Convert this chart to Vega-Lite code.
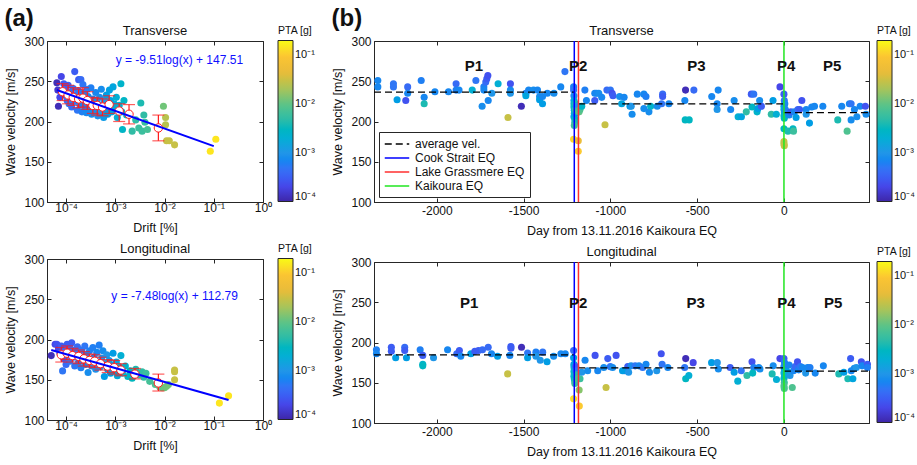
{
  "$schema": "https://vega.github.io/schema/vega-lite/v6.json",
  "padding": {"left": 4, "top": 6, "right": 2, "bottom": 2},
  "config": {
    "font": "Liberation Sans",
    "view": {"stroke": "#262626", "strokeWidth": 1},
    "axis": {"grid": false, "domainColor": "#262626", "tickColor": "#262626", "labelColor": "#111", "titleColor": "#111", "labelFontSize": 12, "titleFontSize": 12.5, "titleFontWeight": "normal", "tickSize": -4, "labelPadding": 7, "domainWidth": 1},
    "axisY": {"titlePadding": 6},
    "axisX": {"titlePadding": 8},
    "title": {"fontSize": 13, "fontWeight": "normal", "offset": -12, "color": "#111"},
    "legend": {"labelFontSize": 11, "titleFontSize": 10.5, "titleFontWeight": "normal", "labelColor": "#111", "titleColor": "#111"}
  },
  "datasets": {
    "tl": [
      {"d":0.000065,"v":248,"p":0.00012},{"d":0.000068,"v":239,"p":0.00015},{"d":0.00007,"v":219,"p":0.00012},{"d":0.00008,"v":256,"p":0.0002},{"d":0.000075,"v":230,"p":0.0002},
      {"d":0.00009,"v":247,"p":0.0003},{"d":0.000095,"v":240,"p":0.0004},{"d":0.0001,"v":232,"p":0.0003},{"d":0.000105,"v":226,"p":0.0004},{"d":0.00011,"v":245,"p":0.0003},
      {"d":0.000115,"v":222,"p":0.0005},{"d":0.00012,"v":236,"p":0.0004},{"d":0.00013,"v":229,"p":0.0005},{"d":0.00013,"v":218,"p":0.0004},{"d":0.00014,"v":241,"p":0.0004},
      {"d":0.00015,"v":262,"p":0.0003},{"d":0.00015,"v":225,"p":0.0005},{"d":0.00016,"v":233,"p":0.0005},{"d":0.00017,"v":214,"p":0.0005},{"d":0.00018,"v":252,"p":0.0003},
      {"d":0.00018,"v":238,"p":0.0005},{"d":0.00019,"v":221,"p":0.0006},{"d":0.0002,"v":252,"p":0.0004},{"d":0.0002,"v":229,"p":0.0005},{"d":0.00021,"v":212,"p":0.0006},
      {"d":0.00022,"v":246,"p":0.0005},{"d":0.00023,"v":235,"p":0.0006},{"d":0.00024,"v":219,"p":0.0006},{"d":0.00025,"v":226,"p":0.0006},{"d":0.00026,"v":211,"p":0.0007},
      {"d":0.00027,"v":240,"p":0.0005},{"d":0.00028,"v":231,"p":0.0007},{"d":0.0003,"v":223,"p":0.0007},{"d":0.0003,"v":215,"p":0.0007},{"d":0.00032,"v":242,"p":0.0006},
      {"d":0.00033,"v":209,"p":0.0008},{"d":0.00035,"v":228,"p":0.0007},{"d":0.00036,"v":219,"p":0.0008},{"d":0.00038,"v":213,"p":0.0008},{"d":0.0004,"v":236,"p":0.0007},
      {"d":0.00042,"v":224,"p":0.0008},{"d":0.00044,"v":207,"p":0.0009},{"d":0.00046,"v":216,"p":0.0009},{"d":0.00048,"v":230,"p":0.0008},{"d":0.0005,"v":212,"p":0.001},
      {"d":0.00052,"v":240,"p":0.0008},{"d":0.00055,"v":221,"p":0.001},{"d":0.00058,"v":205,"p":0.0011},{"d":0.0006,"v":227,"p":0.001},{"d":0.00063,"v":214,"p":0.0011},
      {"d":0.00066,"v":233,"p":0.0012},{"d":0.0007,"v":209,"p":0.0012},{"d":0.00073,"v":219,"p":0.0013},{"d":0.00076,"v":239,"p":0.0013},{"d":0.0008,"v":226,"p":0.0014},
      {"d":0.00085,"v":212,"p":0.0015},{"d":0.0009,"v":243,"p":0.0015},{"d":0.00095,"v":222,"p":0.0016},{"d":0.001,"v":216,"p":0.0018},{"d":0.00105,"v":230,"p":0.002},
      {"d":0.0011,"v":205,"p":0.002},{"d":0.0012,"v":220,"p":0.0022},{"d":0.0013,"v":247,"p":0.0025},{"d":0.00135,"v":212,"p":0.0025},{"d":0.0014,"v":190,"p":0.0028},
      {"d":0.0015,"v":226,"p":0.0028},{"d":0.0017,"v":208,"p":0.003},{"d":0.0022,"v":188,"p":0.005},{"d":0.0026,"v":202,"p":0.005},{"d":0.003,"v":192,"p":0.006},
      {"d":0.0033,"v":223,"p":0.004},{"d":0.0035,"v":188,"p":0.006},{"d":0.0038,"v":208,"p":0.005},{"d":0.004,"v":199,"p":0.006},{"d":0.0045,"v":190,"p":0.007},
      {"d":0.0095,"v":219,"p":0.012},{"d":0.0105,"v":205,"p":0.025},{"d":0.0105,"v":196,"p":0.025},{"d":0.011,"v":176,"p":0.03},{"d":0.0125,"v":176,"p":0.03},
      {"d":0.016,"v":171,"p":0.03},{"d":0.085,"v":163,"p":0.15},{"d":0.11,"v":178,"p":0.15}
    ],
    "bl": [
      {"d":0.00005,"v":180,"p":0.00012},{"d":0.00006,"v":194,"p":0.0002},{"d":0.000065,"v":194,"p":0.00025},{"d":0.00007,"v":188,"p":0.0002},{"d":0.000075,"v":183,"p":0.0003},
      {"d":0.00008,"v":192,"p":0.0003},{"d":0.000085,"v":161,"p":0.0005},{"d":0.00009,"v":176,"p":0.0003},{"d":0.000095,"v":186,"p":0.0004},{"d":0.0001,"v":169,"p":0.0004},
      {"d":0.000105,"v":194,"p":0.0003},{"d":0.00011,"v":181,"p":0.0004},{"d":0.00012,"v":173,"p":0.0005},{"d":0.000125,"v":188,"p":0.0004},{"d":0.00013,"v":196,"p":0.0003},
      {"d":0.00014,"v":178,"p":0.0005},{"d":0.00015,"v":167,"p":0.0005},{"d":0.00016,"v":185,"p":0.0005},{"d":0.00017,"v":191,"p":0.0004},{"d":0.00018,"v":172,"p":0.0006},
      {"d":0.00019,"v":180,"p":0.0005},{"d":0.0002,"v":165,"p":0.0006},{"d":0.00021,"v":187,"p":0.0005},{"d":0.00022,"v":176,"p":0.0006},{"d":0.00024,"v":192,"p":0.0005},
      {"d":0.00025,"v":169,"p":0.0007},{"d":0.00026,"v":181,"p":0.0006},{"d":0.00028,"v":159,"p":0.0008},{"d":0.0003,"v":186,"p":0.0006},{"d":0.00031,"v":174,"p":0.0007},
      {"d":0.00033,"v":167,"p":0.0008},{"d":0.00035,"v":190,"p":0.0006},{"d":0.00037,"v":178,"p":0.0007},{"d":0.0004,"v":163,"p":0.0009},{"d":0.00042,"v":184,"p":0.0007},
      {"d":0.00044,"v":171,"p":0.0008},{"d":0.00047,"v":193,"p":0.0006},{"d":0.0005,"v":166,"p":0.0009},{"d":0.00053,"v":177,"p":0.0009},{"d":0.00056,"v":186,"p":0.0008},
      {"d":0.0006,"v":154,"p":0.0012},{"d":0.00063,"v":170,"p":0.001},{"d":0.00067,"v":181,"p":0.001},{"d":0.0007,"v":163,"p":0.0012},{"d":0.00075,"v":174,"p":0.0011},
      {"d":0.0008,"v":158,"p":0.0013},{"d":0.00085,"v":168,"p":0.0013},{"d":0.0009,"v":183,"p":0.0012},{"d":0.001,"v":162,"p":0.0015},{"d":0.00105,"v":172,"p":0.0015},
      {"d":0.0011,"v":155,"p":0.0017},{"d":0.0012,"v":166,"p":0.0018},{"d":0.0013,"v":180,"p":0.002},{"d":0.0014,"v":158,"p":0.0022},{"d":0.0016,"v":167,"p":0.0024},
      {"d":0.0018,"v":154,"p":0.0028},{"d":0.002,"v":161,"p":0.003},{"d":0.0022,"v":152,"p":0.0032},{"d":0.0026,"v":163,"p":0.004},{"d":0.003,"v":156,"p":0.0045},
      {"d":0.0035,"v":160,"p":0.005},{"d":0.0038,"v":153,"p":0.005},{"d":0.0042,"v":158,"p":0.006},{"d":0.005,"v":148,"p":0.007},{"d":0.0065,"v":144,"p":0.008},
      {"d":0.008,"v":141,"p":0.01},{"d":0.009,"v":140,"p":0.01},{"d":0.01,"v":140,"p":0.011},{"d":0.011,"v":142,"p":0.012},{"d":0.012,"v":144,"p":0.012},
      {"d":0.016,"v":150,"p":0.03},{"d":0.016,"v":160,"p":0.03},{"d":0.016,"v":162,"p":0.03},{"d":0.13,"v":121,"p":0.15},{"d":0.2,"v":130,"p":0.15}
    ],
    "tlerr": [
      {"d":0.000085,"m":237,"lo":226,"hi":247},{"d":0.00011,"m":233,"lo":222,"hi":245},{"d":0.00014,"m":230,"lo":220,"hi":242},{"d":0.00018,"m":228,"lo":217,"hi":240},
      {"d":0.00022,"m":229,"lo":218,"hi":242},{"d":0.00027,"m":226,"lo":215,"hi":237},{"d":0.00035,"m":220,"lo":210,"hi":230},{"d":0.00043,"m":220,"lo":208,"hi":229},
      {"d":0.00055,"m":218,"lo":207,"hi":228},{"d":0.00075,"m":221,"lo":210,"hi":232},{"d":0.0012,"m":213,"lo":200,"hi":222},{"d":0.0019,"m":209,"lo":197,"hi":221},
      {"d":0.0075,"m":192,"lo":176,"hi":208}
    ],
    "blerr": [
      {"d":0.00008,"m":181,"lo":172,"hi":190},{"d":0.000105,"m":183,"lo":175,"hi":192},{"d":0.000135,"m":180,"lo":172,"hi":189},{"d":0.00018,"m":179,"lo":170,"hi":187},
      {"d":0.00023,"m":176,"lo":167,"hi":185},{"d":0.0003,"m":174,"lo":166,"hi":182},{"d":0.00038,"m":173,"lo":165,"hi":181},{"d":0.0005,"m":170,"lo":162,"hi":178},
      {"d":0.0007,"m":167,"lo":159,"hi":175},{"d":0.00095,"m":165,"lo":157,"hi":174},{"d":0.0013,"m":162,"lo":155,"hi":170},{"d":0.0025,"m":157,"lo":151,"hi":164},
      {"d":0.0075,"m":146,"lo":136,"hi":157}
    ],
    "tlfit": [{"d":0.000065,"v":239.2},{"d":0.1,"v":169.4}],
    "blfit": [{"d":0.00005,"v":186.9},{"d":0.2,"v":124.8}],
    "tleq": [{"d":0.02,"v":276,"t":"y = -9.51log(x) + 147.51"}],
    "bleq": [{"d":0.016,"v":254,"t":"y = -7.48log(x) + 112.79"}],
    "tr": [
      {"d":-2340,"v":251,"p":0.0007},{"d":-2340,"v":243,"p":0.0007},{"d":-2250,"v":247,"p":0.0005},{"d":-2250,"v":243,"p":0.0005},{"d":-2229,"v":227,"p":0.0012},
      {"d":-2179,"v":226,"p":0.00025},{"d":-2168,"v":243,"p":0.0004},{"d":-2168,"v":235,"p":0.0007},{"d":-2090,"v":251,"p":0.0006},{"d":-2073,"v":230,"p":0.0007},
      {"d":-2073,"v":222,"p":0.004},{"d":-2011,"v":237,"p":0.0007},{"d":-1933,"v":237,"p":0.0007},{"d":-1889,"v":247,"p":0.0004},{"d":-1889,"v":239,"p":0.0006},
      {"d":-1872,"v":239,"p":0.0007},{"d":-1796,"v":239,"p":0.002},{"d":-1775,"v":251,"p":0.0005},{"d":-1739,"v":219,"p":0.0008},{"d":-1729,"v":243,"p":0.0006},
      {"d":-1729,"v":239,"p":0.0007},{"d":-1718,"v":249,"p":0.0004},{"d":-1712,"v":253,"p":0.0003},{"d":-1706,"v":257,"p":0.00025},{"d":-1704,"v":226,"p":0.0007},
      {"d":-1683,"v":235,"p":0.001},{"d":-1647,"v":247,"p":0.002},{"d":-1590,"v":205,"p":0.03},{"d":-1576,"v":247,"p":0.00025},{"d":-1576,"v":239,"p":0.0007},
      {"d":-1576,"v":235,"p":0.001},{"d":-1513,"v":219,"p":0.00012},{"d":-1487,"v":235,"p":0.0006},{"d":-1487,"v":232,"p":0.0015},{"d":-1471,"v":239,"p":0.0007},
      {"d":-1443,"v":239,"p":0.0008},{"d":-1420,"v":239,"p":0.0007},{"d":-1408,"v":231,"p":0.0008},{"d":-1408,"v":227,"p":0.0012},{"d":-1391,"v":231,"p":0.0007},
      {"d":-1391,"v":222,"p":0.0012},{"d":-1363,"v":235,"p":0.0007},{"d":-1325,"v":235,"p":0.0008},{"d":-1286,"v":243,"p":0.0007},{"d":-1262,"v":262,"p":0.0005},
      {"d":-1212,"v":243,"p":0.0006},{"d":-1212,"v":239,"p":0.0005},{"d":-1210,"v":232,"p":0.0007},{"d":-1210,"v":226,"p":0.0015},{"d":-1210,"v":222,"p":0.0025},
      {"d":-1210,"v":218,"p":0.003},{"d":-1208,"v":214,"p":0.002},{"d":-1208,"v":210,"p":0.0025},{"d":-1210,"v":206,"p":0.0012},{"d":-1205,"v":203,"p":0.003},
      {"d":-1205,"v":199,"p":0.004},{"d":-1208,"v":195,"p":0.006},{"d":-1212,"v":178,"p":0.12},{"d":-1200,"v":222,"p":0.004},{"d":-1200,"v":215,"p":0.008},
      {"d":-1200,"v":210,"p":0.0012},{"d":-1195,"v":219,"p":0.001},{"d":-1198,"v":213,"p":0.005},{"d":-1185,"v":176,"p":0.05},{"d":-1185,"v":163,"p":0.1},
      {"d":-1185,"v":213,"p":0.006},{"d":-1180,"v":212,"p":0.01},{"d":-1175,"v":215,"p":0.008},{"d":-1165,"v":219,"p":0.0025},{"d":-1147,"v":239,"p":0.0006},
      {"d":-1138,"v":226,"p":0.0007},{"d":-1090,"v":226,"p":0.0003},{"d":-1090,"v":235,"p":0.0007},{"d":-1080,"v":235,"p":0.0007},{"d":-1067,"v":235,"p":0.0008},
      {"d":-1050,"v":230,"p":0.0007},{"d":-1031,"v":196,"p":0.03},{"d":-1020,"v":239,"p":0.0004},{"d":-1000,"v":239,"p":0.0005},{"d":-990,"v":235,"p":0.00025},
      {"d":-985,"v":232,"p":0.0003},{"d":-947,"v":231,"p":0.0008},{"d":-935,"v":222,"p":0.0015},{"d":-921,"v":230,"p":0.0007},{"d":-887,"v":219,"p":0.0012},
      {"d":-880,"v":219,"p":0.001},{"d":-875,"v":209,"p":0.0008},{"d":-845,"v":234,"p":0.0007},{"d":-807,"v":234,"p":0.0007},{"d":-795,"v":231,"p":0.0006},
      {"d":-807,"v":216,"p":0.0008},{"d":-778,"v":212,"p":0.0008},{"d":-768,"v":219,"p":0.0025},{"d":-730,"v":219,"p":0.0008},{"d":-699,"v":234,"p":0.0004},
      {"d":-699,"v":231,"p":0.0003},{"d":-705,"v":222,"p":0.0005},{"d":-663,"v":222,"p":0.0007},{"d":-571,"v":226,"p":0.0007},{"d":-567,"v":239,"p":0.00012},
      {"d":-519,"v":239,"p":0.0004},{"d":-569,"v":202,"p":0.003},{"d":-546,"v":202,"p":0.003},{"d":-416,"v":231,"p":0.0007},{"d":-385,"v":222,"p":0.0007},
      {"d":-385,"v":215,"p":0.001},{"d":-379,"v":239,"p":0.0007},{"d":-307,"v":215,"p":0.0007},{"d":-287,"v":226,"p":0.0008},{"d":-264,"v":206,"p":0.002},
      {"d":-245,"v":206,"p":0.0015},{"d":-217,"v":212,"p":0.005},{"d":-188,"v":234,"p":0.0003},{"d":-174,"v":234,"p":0.0005},{"d":-184,"v":218,"p":0.003},
      {"d":-155,"v":212,"p":0.0025},{"d":-150,"v":216,"p":0.0012},{"d":-140,"v":226,"p":0.0008},{"d":-130,"v":219,"p":0.0003},{"d":-73,"v":209,"p":0.005},
      {"d":-63,"v":226,"p":0.0012},{"d":-44,"v":209,"p":0.002},{"d":-23,"v":243,"p":0.0002},{"d":0,"v":234,"p":0.0003},{"d":2,"v":226,"p":0.0005},
      {"d":0,"v":219,"p":0.0012},{"d":0,"v":215,"p":0.002},{"d":2,"v":211,"p":0.0015},{"d":0,"v":207,"p":0.0025},{"d":2,"v":204,"p":0.003},
      {"d":0,"v":191,"p":0.003},{"d":0,"v":175,"p":0.03},{"d":0,"v":172,"p":0.025},{"d":2,"v":170,"p":0.03},{"d":5,"v":222,"p":0.0007},
      {"d":8,"v":215,"p":0.0007},{"d":15,"v":212,"p":0.0006},{"d":23,"v":188,"p":0.004},{"d":30,"v":208,"p":0.0007},{"d":40,"v":212,"p":0.0003},
      {"d":52,"v":191,"p":0.003},{"d":55,"v":188,"p":0.006},{"d":60,"v":212,"p":0.0007},{"d":70,"v":205,"p":0.0012},{"d":80,"v":215,"p":0.0004},
      {"d":90,"v":215,"p":0.0003},{"d":103,"v":226,"p":0.00025},{"d":128,"v":215,"p":0.0007},{"d":128,"v":209,"p":0.001},{"d":147,"v":198,"p":0.0012},
      {"d":160,"v":218,"p":0.0007},{"d":176,"v":219,"p":0.0007},{"d":224,"v":219,"p":0.0007},{"d":310,"v":202,"p":0.004},{"d":333,"v":219,"p":0.0007},
      {"d":364,"v":188,"p":0.008},{"d":377,"v":222,"p":0.0007},{"d":387,"v":222,"p":0.0005},{"d":387,"v":202,"p":0.0008},{"d":406,"v":215,"p":0.0007},
      {"d":420,"v":206,"p":0.0008},{"d":439,"v":219,"p":0.0007},{"d":469,"v":219,"p":0.00025},{"d":473,"v":209,"p":0.0008}
    ],
    "br": [
      {"d":-2348,"v":191,"p":0.0006},{"d":-2348,"v":186,"p":0.0007},{"d":-2262,"v":194,"p":0.0003},{"d":-2262,"v":189,"p":0.0003},{"d":-2237,"v":181,"p":0.0012},
      {"d":-2185,"v":194,"p":0.0004},{"d":-2185,"v":190,"p":0.0003},{"d":-2175,"v":181,"p":0.0012},{"d":-2096,"v":191,"p":0.0006},{"d":-2081,"v":184,"p":0.0003},
      {"d":-2081,"v":173,"p":0.0025},{"d":-2081,"v":171,"p":0.003},{"d":-2019,"v":181,"p":0.001},{"d":-1938,"v":191,"p":0.0007},{"d":-1885,"v":186,"p":0.0004},
      {"d":-1870,"v":190,"p":0.0003},{"d":-1862,"v":183,"p":0.0007},{"d":-1804,"v":186,"p":0.0012},{"d":-1781,"v":189,"p":0.0003},{"d":-1760,"v":190,"p":0.0003},
      {"d":-1737,"v":191,"p":0.0004},{"d":-1704,"v":194,"p":0.0004},{"d":-1685,"v":186,"p":0.0007},{"d":-1650,"v":183,"p":0.0012},{"d":-1592,"v":161,"p":0.03},
      {"d":-1579,"v":184,"p":0.0007},{"d":-1573,"v":195,"p":0.0003},{"d":-1573,"v":193,"p":0.0003},{"d":-1512,"v":194,"p":0.00012},{"d":-1477,"v":187,"p":0.0005},
      {"d":-1477,"v":181,"p":0.0012},{"d":-1429,"v":188,"p":0.0006},{"d":-1429,"v":183,"p":0.001},{"d":-1404,"v":178,"p":0.001},{"d":-1390,"v":188,"p":0.0005},
      {"d":-1365,"v":176,"p":0.0012},{"d":-1327,"v":183,"p":0.0008},{"d":-1285,"v":186,"p":0.0007},{"d":-1260,"v":186,"p":0.0007},{"d":-1212,"v":190,"p":0.0004},
      {"d":-1212,"v":181,"p":0.0012},{"d":-1210,"v":173,"p":0.0012},{"d":-1210,"v":170,"p":0.0015},{"d":-1208,"v":167,"p":0.002},{"d":-1210,"v":164,"p":0.0025},
      {"d":-1208,"v":161,"p":0.003},{"d":-1210,"v":158,"p":0.002},{"d":-1208,"v":155,"p":0.003},{"d":-1205,"v":152,"p":0.004},{"d":-1205,"v":149,"p":0.006},
      {"d":-1212,"v":130,"p":0.13},{"d":-1200,"v":170,"p":0.0003},{"d":-1198,"v":165,"p":0.0005},{"d":-1195,"v":160,"p":0.005},{"d":-1190,"v":155,"p":0.008},
      {"d":-1180,"v":141,"p":0.015},{"d":-1179,"v":121,"p":0.1},{"d":-1175,"v":155,"p":0.006},{"d":-1165,"v":163,"p":0.001},{"d":-1146,"v":178,"p":0.0007},
      {"d":-1131,"v":165,"p":0.0008},{"d":-1088,"v":184,"p":0.00025},{"d":-1073,"v":165,"p":0.0007},{"d":-1038,"v":169,"p":0.0008},{"d":-1025,"v":144,"p":0.03},
      {"d":-1015,"v":180,"p":0.0003},{"d":-1000,"v":170,"p":0.0005},{"d":-987,"v":169,"p":0.0008},{"d":-967,"v":184,"p":0.00025},{"d":-919,"v":165,"p":0.0007},
      {"d":-900,"v":170,"p":0.0003},{"d":-881,"v":171,"p":0.0008},{"d":-930,"v":165,"p":0.0012},{"d":-895,"v":163,"p":0.001},{"d":-857,"v":171,"p":0.0005},
      {"d":-835,"v":171,"p":0.0007},{"d":-814,"v":169,"p":0.0005},{"d":-795,"v":173,"p":0.0007},{"d":-775,"v":163,"p":0.0008},{"d":-733,"v":165,"p":0.001},
      {"d":-707,"v":186,"p":0.00025},{"d":-702,"v":173,"p":0.0005},{"d":-669,"v":169,"p":0.0007},{"d":-572,"v":169,"p":0.0005},{"d":-566,"v":180,"p":0.00012},
      {"d":-566,"v":155,"p":0.003},{"d":-548,"v":159,"p":0.002},{"d":-523,"v":175,"p":0.0002},{"d":-417,"v":175,"p":0.0012},{"d":-384,"v":175,"p":0.001},
      {"d":-378,"v":167,"p":0.0008},{"d":-310,"v":169,"p":0.0003},{"d":-287,"v":163,"p":0.0012},{"d":-266,"v":152,"p":0.002},{"d":-246,"v":165,"p":0.0005},
      {"d":-213,"v":159,"p":0.005},{"d":-184,"v":176,"p":0.00025},{"d":-174,"v":169,"p":0.0006},{"d":-180,"v":162,"p":0.003},{"d":-145,"v":169,"p":0.0007},
      {"d":-138,"v":167,"p":0.0008},{"d":-68,"v":161,"p":0.004},{"d":-62,"v":171,"p":0.0008},{"d":-43,"v":154,"p":0.002},{"d":-23,"v":180,"p":0.0002},
      {"d":0,"v":180,"p":0.0003},{"d":3,"v":175,"p":0.0006},{"d":0,"v":170,"p":0.0008},{"d":2,"v":166,"p":0.0015},{"d":0,"v":162,"p":0.002},
      {"d":3,"v":158,"p":0.0025},{"d":0,"v":155,"p":0.003},{"d":2,"v":150,"p":0.006},{"d":0,"v":146,"p":0.008},{"d":2,"v":143,"p":0.008},
      {"d":10,"v":171,"p":0.0006},{"d":15,"v":165,"p":0.0012},{"d":20,"v":161,"p":0.002},{"d":30,"v":172,"p":0.0007},{"d":35,"v":159,"p":0.001},
      {"d":48,"v":144,"p":0.008},{"d":55,"v":165,"p":0.0007},{"d":65,"v":170,"p":0.0004},{"d":78,"v":176,"p":0.00025},{"d":85,"v":166,"p":0.0007},
      {"d":95,"v":170,"p":0.0005},{"d":107,"v":169,"p":0.0007},{"d":125,"v":162,"p":0.001},{"d":136,"v":169,"p":0.0007},{"d":150,"v":169,"p":0.0006},
      {"d":180,"v":162,"p":0.0007},{"d":227,"v":171,"p":0.0007},{"d":316,"v":161,"p":0.004},{"d":345,"v":163,"p":0.0012},{"d":368,"v":155,"p":0.004},
      {"d":384,"v":180,"p":0.0003},{"d":388,"v":165,"p":0.0007},{"d":397,"v":155,"p":0.0015},{"d":405,"v":168,"p":0.0008},{"d":417,"v":169,"p":0.001},
      {"d":446,"v":176,"p":0.00025},{"d":450,"v":171,"p":0.0007},{"d":481,"v":173,"p":0.0003},{"d":481,"v":169,"p":0.0006}
    ],
    "avgt": [
      {"d1":-2362,"d2":-1208,"v":236.5,"name":"average vel."},
      {"d1":-1185,"d2":0,"v":222,"name":"average vel."},
      {"d1":0,"d2":490,"v":211,"name":"average vel."}
    ],
    "avgb": [
      {"d1":-2362,"d2":-1208,"v":184.7,"name":"average vel."},
      {"d1":-1185,"d2":0,"v":168.6,"name":"average vel."},
      {"d1":0,"d2":490,"v":164.5,"name":"average vel."}
    ],
    "events": [
      {"d":-1208,"name":"Cook Strait EQ"},
      {"d":-1184,"name":"Lake Grassmere EQ"},
      {"d":0,"name":"Kaikoura EQ"}
    ],
    "labt": [
      {"d":-1786,"v":269,"t":"P1"},{"d":-1185,"v":269,"t":"P2"},{"d":-504,"v":269,"t":"P3"},{"d":13,"v":269,"t":"P4"},{"d":278,"v":269,"t":"P5"}
    ],
    "labb": [
      {"d":-1813,"v":249.6,"t":"P1"},{"d":-1185,"v":249.6,"t":"P2"},{"d":-508,"v":249.6,"t":"P3"},{"d":14,"v":249.6,"t":"P4"},{"d":283,"v":249.6,"t":"P5"}
    ]
  },
  "hconcat": [
    {
      "title": {"text": "(a)", "anchor": "start", "fontSize": 24, "fontWeight": "bold", "offset": -6, "frame": "bounds"},
      "spacing": 8,
      "vconcat": [
        {
          "width": 216, "height": 161,
          "title": "Transverse",
          "resolve": {"axis": {"x": "independent", "y": "independent"}},
          "layer": [
            {
              "data": {"name": "tl"},
              "mark": {"type": "circle", "size": 50, "opacity": 1},
              "encoding": {
                "x": {"field": "d", "type": "quantitative", "scale": {"type": "log", "domain": [0.000041, 1], "nice": false}, "title": "Drift [%]",
                      "axis": {"values": [0.0001, 0.001, 0.01, 0.1, 1], "labelPadding": 4, "labelFlush": false, "labelOverlap": false, "labelExpr": "datum.value < 0.0005 ? '10⁻⁴' : datum.value < 0.005 ? '10⁻³' : datum.value < 0.05 ? '10⁻²' : datum.value < 0.5 ? '10⁻¹' : '10⁰'"}},
                "y": {"field": "v", "type": "quantitative", "scale": {"domain": [100, 300], "nice": false, "zero": false}, "title": "Wave velocity [m/s]", "axis": {"values": [100, 150, 200, 250, 300]}},
                "fill": {"field": "p", "type": "quantitative",
                         "scale": {"type": "log", "domain": [0.0001, 0.2], "range": ["#3E26A8", "#4649EE", "#3771F5", "#2495E8", "#0FB0D2", "#2ABBAA", "#5BC388", "#A8C45A", "#E9BB3A", "#FBC532", "#F9FB15"]},
                         "legend": {"title": "PTA [g]", "orient": "none", "legendX": 231, "legendY": -15, "direction": "vertical", "gradientLength": 161, "gradientThickness": 15, "gradientStrokeColor": "#262626", "gradientStrokeWidth": 1, "values": [0.0001, 0.001, 0.01, 0.1], "labelExpr": "datum.value < 0.0005 ? '10⁻⁴' : datum.value < 0.005 ? '10⁻³' : datum.value < 0.05 ? '10⁻²' : '10⁻¹'", "labelOverlap": false, "titlePadding": 4}}
              }
            },
            {
              "data": {"name": "tlerr"},
              "mark": {"type": "errorbar", "ticks": {"size": 12}, "color": "#FF1A1A", "thickness": 1.2},
              "encoding": {
                "x": {"field": "d", "type": "quantitative", "axis": null},
                "y": {"field": "lo", "type": "quantitative", "axis": null},
                "y2": {"field": "hi"}
              }
            },
            {
              "data": {"name": "tlerr"},
              "mark": {"type": "point", "shape": "circle", "filled": true, "fill": "white", "stroke": "#FF1A1A", "strokeWidth": 1, "size": 70, "opacity": 1},
              "encoding": {
                "x": {"field": "d", "type": "quantitative", "axis": null},
                "y": {"field": "m", "type": "quantitative", "axis": null}
              }
            },
            {
              "data": {"name": "tlfit"},
              "mark": {"type": "line", "color": "#0000FF", "strokeWidth": 2},
              "encoding": {
                "x": {"field": "d", "type": "quantitative", "axis": {"orient": "top", "labels": false, "title": null, "domain": false, "values": [0.0001, 0.001, 0.01, 0.1, 1]}},
                "y": {"field": "v", "type": "quantitative", "axis": {"orient": "right", "labels": false, "title": null, "domain": false, "values": [100, 150, 200, 250, 300]}}
              }
            },
            {
              "data": {"name": "tleq"},
              "mark": {"type": "text", "color": "#1010FF", "fontSize": 12},
              "encoding": {
                "x": {"field": "d", "type": "quantitative", "axis": null},
                "y": {"field": "v", "type": "quantitative", "axis": null},
                "text": {"field": "t"}
              }
            }
          ]
        },
        {
          "width": 216, "height": 161,
          "title": "Longitudinal",
          "resolve": {"axis": {"x": "independent", "y": "independent"}},
          "layer": [
            {
              "data": {"name": "bl"},
              "mark": {"type": "circle", "size": 50, "opacity": 1},
              "encoding": {
                "x": {"field": "d", "type": "quantitative", "scale": {"type": "log", "domain": [0.000041, 1], "nice": false}, "title": "Drift [%]",
                      "axis": {"values": [0.0001, 0.001, 0.01, 0.1, 1], "labelPadding": 4, "labelFlush": false, "labelOverlap": false, "labelExpr": "datum.value < 0.0005 ? '10⁻⁴' : datum.value < 0.005 ? '10⁻³' : datum.value < 0.05 ? '10⁻²' : datum.value < 0.5 ? '10⁻¹' : '10⁰'"}},
                "y": {"field": "v", "type": "quantitative", "scale": {"domain": [100, 300], "nice": false, "zero": false}, "title": "Wave velocity [m/s]", "axis": {"values": [100, 150, 200, 250, 300]}},
                "fill": {"field": "p", "type": "quantitative",
                         "scale": {"type": "log", "domain": [0.0001, 0.2], "range": ["#3E26A8", "#4649EE", "#3771F5", "#2495E8", "#0FB0D2", "#2ABBAA", "#5BC388", "#A8C45A", "#E9BB3A", "#FBC532", "#F9FB15"]},
                         "legend": {"title": "PTA [g]", "orient": "none", "legendX": 231, "legendY": -15, "direction": "vertical", "gradientLength": 161, "gradientThickness": 15, "gradientStrokeColor": "#262626", "gradientStrokeWidth": 1, "values": [0.0001, 0.001, 0.01, 0.1], "labelExpr": "datum.value < 0.0005 ? '10⁻⁴' : datum.value < 0.005 ? '10⁻³' : datum.value < 0.05 ? '10⁻²' : '10⁻¹'", "labelOverlap": false, "titlePadding": 4}}
              }
            },
            {
              "data": {"name": "blerr"},
              "mark": {"type": "errorbar", "ticks": {"size": 12}, "color": "#FF1A1A", "thickness": 1.2},
              "encoding": {
                "x": {"field": "d", "type": "quantitative", "axis": null},
                "y": {"field": "lo", "type": "quantitative", "axis": null},
                "y2": {"field": "hi"}
              }
            },
            {
              "data": {"name": "blerr"},
              "mark": {"type": "point", "shape": "circle", "filled": true, "fill": "white", "stroke": "#FF1A1A", "strokeWidth": 1, "size": 70, "opacity": 1},
              "encoding": {
                "x": {"field": "d", "type": "quantitative", "axis": null},
                "y": {"field": "m", "type": "quantitative", "axis": null}
              }
            },
            {
              "data": {"name": "blfit"},
              "mark": {"type": "line", "color": "#0000FF", "strokeWidth": 2},
              "encoding": {
                "x": {"field": "d", "type": "quantitative", "axis": {"orient": "top", "labels": false, "title": null, "domain": false, "values": [0.0001, 0.001, 0.01, 0.1, 1]}},
                "y": {"field": "v", "type": "quantitative", "axis": {"orient": "right", "labels": false, "title": null, "domain": false, "values": [100, 150, 200, 250, 300]}}
              }
            },
            {
              "data": {"name": "bleq"},
              "mark": {"type": "text", "color": "#1010FF", "fontSize": 12},
              "encoding": {
                "x": {"field": "d", "type": "quantitative", "axis": null},
                "y": {"field": "v", "type": "quantitative", "axis": null},
                "text": {"field": "t"}
              }
            }
          ]
        }
      ],
      "resolve": {"scale": {"x": "independent", "y": "independent", "fill": "independent"}, "legend": {"fill": "independent"}}
    },
    {
      "title": {"text": "(b)", "anchor": "start", "fontSize": 24, "fontWeight": "bold", "offset": -6, "frame": "bounds"},
      "spacing": 8,
      "vconcat": [
        {
          "width": 495, "height": 161,
          "title": "Transverse",
          "resolve": {"axis": {"x": "independent", "y": "independent"}},
          "layer": [
            {
              "data": {"name": "tr"},
              "mark": {"type": "circle", "size": 50, "opacity": 1},
              "encoding": {
                "x": {"field": "d", "type": "quantitative", "scale": {"domain": [-2362, 490], "nice": false, "zero": false}, "title": "Day from 13.11.2016 Kaikoura EQ", "axis": {"values": [-2000, -1500, -1000, -500, 0], "labelExpr": "'' + datum.value"}},
                "y": {"field": "v", "type": "quantitative", "scale": {"domain": [100, 300], "nice": false, "zero": false}, "title": "Wave velocity [m/s]", "axis": {"values": [100, 150, 200, 250, 300]}},
                "fill": {"field": "p", "type": "quantitative",
                         "scale": {"type": "log", "domain": [0.0001, 0.2], "range": ["#3E26A8", "#4649EE", "#3771F5", "#2495E8", "#0FB0D2", "#2ABBAA", "#5BC388", "#A8C45A", "#E9BB3A", "#FBC532", "#F9FB15"]},
                         "legend": {"title": "PTA [g]", "orient": "none", "legendX": 503, "legendY": -15, "direction": "vertical", "gradientLength": 161, "gradientThickness": 15, "gradientStrokeColor": "#262626", "gradientStrokeWidth": 1, "values": [0.0001, 0.001, 0.01, 0.1], "labelExpr": "datum.value < 0.0005 ? '10⁻⁴' : datum.value < 0.005 ? '10⁻³' : datum.value < 0.05 ? '10⁻²' : '10⁻¹'", "labelOverlap": false, "titlePadding": 4}}
              }
            },
            {
              "data": {"name": "avgt"},
              "mark": {"type": "rule", "strokeWidth": 1.2},
              "encoding": {
                "x": {"field": "d1", "type": "quantitative", "axis": {"orient": "top", "labels": false, "title": null, "domain": false, "values": [-2000, -1500, -1000, -500, 0]}},
                "x2": {"field": "d2"},
                "y": {"field": "v", "type": "quantitative", "axis": {"orient": "right", "labels": false, "title": null, "domain": false, "values": [100, 150, 200, 250, 300]}},
                "stroke": {"field": "name", "type": "nominal", "scale": {"domain": ["average vel.", "Cook Strait EQ", "Lake Grassmere EQ", "Kaikoura EQ"], "range": ["#000000", "#0000FF", "#FF3030", "#22E622"]},
                           "legend": {"title": null, "orient": "bottom-left", "offset": 5, "symbolType": "M-2,0H2", "symbolSize": 150, "symbolOffset": 6, "symbolStrokeWidth": 1.5, "labelFontSize": 12, "strokeColor": "#262626", "fillColor": "white", "padding": 5, "rowPadding": 1, "labelLimit": 200, "labelOffset": 11}},
                "strokeDash": {"field": "name", "type": "nominal", "scale": {"domain": ["average vel.", "Cook Strait EQ", "Lake Grassmere EQ", "Kaikoura EQ"], "range": [[7, 4], [1, 0], [1, 0], [1, 0]]},
                           "legend": {"title": null, "orient": "bottom-left", "offset": 5, "symbolType": "M-2,0H2", "symbolSize": 150, "symbolOffset": 6, "symbolStrokeWidth": 1.5, "labelFontSize": 12, "strokeColor": "#262626", "fillColor": "white", "padding": 5, "rowPadding": 1, "labelLimit": 200, "labelOffset": 11}}
              }
            },
            {
              "data": {"name": "events"},
              "mark": {"type": "rule", "strokeWidth": 1.5},
              "encoding": {
                "x": {"field": "d", "type": "quantitative", "axis": null},
                "stroke": {"field": "name", "type": "nominal"},
                "strokeDash": {"field": "name", "type": "nominal"}
              }
            },
            {
              "data": {"name": "labt"},
              "mark": {"type": "text", "fontSize": 15, "fontWeight": "bold", "color": "#111"},
              "encoding": {
                "x": {"field": "d", "type": "quantitative", "axis": null},
                "y": {"field": "v", "type": "quantitative", "axis": null},
                "text": {"field": "t"}
              }
            }
          ]
        },
        {
          "width": 495, "height": 161,
          "title": "Longitudinal",
          "resolve": {"axis": {"x": "independent", "y": "independent"}},
          "layer": [
            {
              "data": {"name": "br"},
              "mark": {"type": "circle", "size": 50, "opacity": 1},
              "encoding": {
                "x": {"field": "d", "type": "quantitative", "scale": {"domain": [-2362, 490], "nice": false, "zero": false}, "title": "Day from 13.11.2016 Kaikoura EQ", "axis": {"values": [-2000, -1500, -1000, -500, 0], "labelExpr": "'' + datum.value"}},
                "y": {"field": "v", "type": "quantitative", "scale": {"domain": [100, 300], "nice": false, "zero": false}, "title": "Wave velocity [m/s]", "axis": {"values": [100, 150, 200, 250, 300]}},
                "fill": {"field": "p", "type": "quantitative",
                         "scale": {"type": "log", "domain": [0.0001, 0.2], "range": ["#3E26A8", "#4649EE", "#3771F5", "#2495E8", "#0FB0D2", "#2ABBAA", "#5BC388", "#A8C45A", "#E9BB3A", "#FBC532", "#F9FB15"]},
                         "legend": {"title": "PTA [g]", "orient": "none", "legendX": 503, "legendY": -15, "direction": "vertical", "gradientLength": 161, "gradientThickness": 15, "gradientStrokeColor": "#262626", "gradientStrokeWidth": 1, "values": [0.0001, 0.001, 0.01, 0.1], "labelExpr": "datum.value < 0.0005 ? '10⁻⁴' : datum.value < 0.005 ? '10⁻³' : datum.value < 0.05 ? '10⁻²' : '10⁻¹'", "labelOverlap": false, "titlePadding": 4}}
              }
            },
            {
              "data": {"name": "avgb"},
              "mark": {"type": "rule", "strokeWidth": 1.2},
              "encoding": {
                "x": {"field": "d1", "type": "quantitative", "axis": {"orient": "top", "labels": false, "title": null, "domain": false, "values": [-2000, -1500, -1000, -500, 0]}},
                "x2": {"field": "d2"},
                "y": {"field": "v", "type": "quantitative", "axis": {"orient": "right", "labels": false, "title": null, "domain": false, "values": [100, 150, 200, 250, 300]}},
                "stroke": {"field": "name", "type": "nominal", "scale": {"domain": ["average vel.", "Cook Strait EQ", "Lake Grassmere EQ", "Kaikoura EQ"], "range": ["#000000", "#0000FF", "#FF3030", "#22E622"]}, "legend": null},
                "strokeDash": {"field": "name", "type": "nominal", "scale": {"domain": ["average vel.", "Cook Strait EQ", "Lake Grassmere EQ", "Kaikoura EQ"], "range": [[7, 4], [1, 0], [1, 0], [1, 0]]}, "legend": null}
              }
            },
            {
              "data": {"name": "events"},
              "mark": {"type": "rule", "strokeWidth": 1.5},
              "encoding": {
                "x": {"field": "d", "type": "quantitative", "axis": null},
                "stroke": {"field": "name", "type": "nominal"},
                "strokeDash": {"field": "name", "type": "nominal"}
              }
            },
            {
              "data": {"name": "labb"},
              "mark": {"type": "text", "fontSize": 15, "fontWeight": "bold", "color": "#111"},
              "encoding": {
                "x": {"field": "d", "type": "quantitative", "axis": null},
                "y": {"field": "v", "type": "quantitative", "axis": null},
                "text": {"field": "t"}
              }
            }
          ]
        }
      ],
      "resolve": {"scale": {"x": "independent", "y": "independent", "fill": "independent", "stroke": "independent", "strokeDash": "independent"}, "legend": {"fill": "independent", "stroke": "independent", "strokeDash": "independent"}}
    }
  ],
  "spacing": 14,
  "resolve": {"scale": {"x": "independent", "y": "independent", "fill": "independent", "stroke": "independent", "strokeDash": "independent"}, "legend": {"fill": "independent", "stroke": "independent", "strokeDash": "independent"}}
}
